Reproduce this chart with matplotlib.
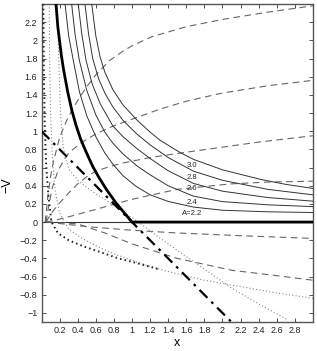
import matplotlib
matplotlib.use("Agg")
import matplotlib.pyplot as plt

plt.rcParams['font.family'] = ['Liberation Sans', 'DejaVu Sans']

# ---- data ----
thick_x = [0.16, 0.18, 0.20, 0.22, 0.245, 0.29, 0.335, 0.38, 0.43, 0.485, 0.53, 0.57, 0.635,
           0.72, 0.82, 0.92, 1.0, 3.0]
thick_y = [2.4, 2.15, 1.99, 1.83, 1.67, 1.43, 1.23, 1.07, 0.92, 0.79, 0.69, 0.605, 0.49,
           0.355, 0.215, 0.095, 0.0, 0.0]

A_labels = ["A=2.2", "2.4", "2.6", "2.8", "3.0"]
sol_x = [
    [0.26, 0.30, 0.351, 0.42, 0.5, 0.6, 0.7, 0.787, 0.9, 1.05, 1.2, 1.4, 1.68, 2.0, 2.5, 3.0],
    [0.333, 0.37, 0.418, 0.5, 0.6, 0.7, 0.787, 0.9, 1.053, 1.2, 1.4, 1.68, 2.0, 2.5, 3.0],
    [0.406, 0.445, 0.492, 0.56, 0.65, 0.787, 0.9, 1.053, 1.2, 1.4, 1.68, 2.0, 2.5, 3.0],
    [0.48, 0.52, 0.566, 0.63, 0.7, 0.787, 0.9, 1.053, 1.2, 1.4, 1.68, 2.0, 2.5, 3.0],
    [0.555, 0.6, 0.647, 0.7, 0.787, 0.9, 1.053, 1.2, 1.311, 1.532, 1.68, 2.0, 2.42, 2.7, 3.0],
]
sol_y = [
    [2.4, 2.05, 1.78, 1.43, 1.17, 0.94, 0.76, 0.64, 0.51, 0.39, 0.30, 0.227, 0.165, 0.13, 0.113, 0.105],
    [2.4, 2.07, 1.78, 1.45, 1.18, 0.99, 0.87, 0.75, 0.62, 0.52, 0.40, 0.285, 0.225, 0.19, 0.17],
    [2.4, 2.07, 1.78, 1.52, 1.30, 1.06, 0.94, 0.81, 0.70, 0.565, 0.425, 0.34, 0.27, 0.23],
    [2.4, 2.07, 1.80, 1.58, 1.42, 1.27, 1.12, 0.97, 0.85, 0.71, 0.56, 0.46, 0.36, 0.30],
    [2.4, 2.05, 1.82, 1.65, 1.46, 1.29, 1.125, 0.99, 0.90, 0.765, 0.69, 0.575, 0.47, 0.415, 0.37],
]
label_x = [1.665, 1.665, 1.665, 1.665, 1.665]
label_y = [0.095, 0.215, 0.37, 0.49, 0.625]

dash_x = [
    [0.04, 0.07, 0.1, 0.13, 0.2, 0.27, 0.33, 0.42, 0.5, 0.6, 0.754, 0.9, 1.0, 1.22, 1.6, 2.0, 2.5, 3.0],
    [0.05, 0.08, 0.12, 0.18, 0.25, 0.31, 0.45, 0.6, 0.8, 1.05, 1.3, 1.6, 2.0, 2.5, 3.0],
    [0.05, 0.11, 0.2, 0.3, 0.4, 0.5, 0.6, 0.75, 0.9, 1.2, 1.5, 1.754, 2.4, 3.0],
    [0.05, 0.15, 0.29, 0.6, 1.0, 1.5, 2.09, 2.5, 3.0],
    [0.06, 0.5, 1.0, 1.5, 2.2, 3.0],
    [0.06, 0.4, 0.7, 1.0, 1.22, 1.5, 2.1, 2.6, 3.0],
]
dash_y = [
    [0.0, 0.28, 0.5, 0.66, 0.93, 1.1, 1.22, 1.37, 1.49, 1.62, 1.78, 1.88, 1.94, 2.04, 2.15, 2.23, 2.31, 2.38],
    [0.0, 0.18, 0.38, 0.56, 0.69, 0.77, 0.88, 0.97, 1.06, 1.15, 1.24, 1.33, 1.42, 1.50, 1.56],
    [0.0, 0.1, 0.21, 0.32, 0.42, 0.5, 0.56, 0.61, 0.65, 0.71, 0.755, 0.79, 0.88, 0.95],
    [0.0, 0.02, 0.055, 0.14, 0.25, 0.36, 0.42, 0.44, 0.45],
    [0.0, -0.05, -0.09, -0.12, -0.15, -0.18],
    [0.0, -0.02, -0.12, -0.24, -0.31, -0.40, -0.53, -0.59, -0.64],
]

kdot_x = [0.02, 0.025, 0.035, 0.05, 0.075, 0.11, 0.18, 0.3, 0.47, 0.65, 0.85, 1.05, 1.3]
kdot_y = [2.4, 1.7, 1.1, 0.65, 0.3, 0.0, -0.12, -0.2, -0.27, -0.33, -0.4, -0.45, -0.52]

gdot_x = [
    [0.085, 0.09, 0.1, 0.12, 0.15, 0.2, 0.3, 0.45, 0.6, 0.8, 1.0, 1.2, 1.5, 1.8, 2.2, 2.6, 3.0],
    [0.175, 0.19, 0.21, 0.237, 0.27, 0.31, 0.4, 0.5, 0.65, 0.81, 0.95, 1.07, 1.3, 1.6, 1.85,
     2.09, 2.4, 2.73],
]
gdot_y = [
    [2.4, 1.8, 1.2, 0.7, 0.35, 0.1, -0.08, -0.18, -0.26, -0.35, -0.42, -0.49, -0.57, -0.64,
     -0.71, -0.78, -0.84],
    [2.4, 1.8, 1.2, 0.85, 0.68, 0.57, 0.46, 0.38, 0.28, 0.18, 0.08, 0.0, -0.17, -0.38, -0.55,
     -0.72, -0.9, -1.08],
]

line_x = [0.0, 2.2]
line_y = [1.0, -1.2]

xticks = [0.2, 0.4, 0.6, 0.8, 1.0, 1.2, 1.4, 1.6, 1.8, 2.0, 2.2, 2.4, 2.6, 2.8]
xtick_labels = ["0.2", "0.4", "0.6", "0.8", "1", "1.2", "1.4", "1.6", "1.8", "2", "2.2", "2.4", "2.6", "2.8"]
yticks = [-1.0, -0.8, -0.6, -0.4, -0.2, 0.0, 0.2, 0.4, 0.6, 0.8, 1.0, 1.2, 1.4, 1.6, 1.8, 2.0, 2.2]
ytick_labels = ["\u22121", "\u22120.8", "\u22120.6", "\u22120.4", "\u22120.2", "0", "0.2", "0.4", "0.6",
                "0.8", "1", "1.2", "1.4", "1.6", "1.8", "2", "2.2"]

# ---- figure ----
fig = plt.figure(figsize=(3.17, 3.51), dpi=100)
ax = fig.add_axes([0.131, 0.0826, 0.856, 0.906])

ax.axhline(0, color='#333333', lw=0.8, zorder=1)

for xs, ys in zip(dash_x, dash_y):
    ax.plot(xs, ys, color='#666666', lw=0.8, linestyle=(0, (6, 4)), zorder=2)
for xs, ys in zip(gdot_x, gdot_y):
    ax.plot(xs, ys, color='#888888', lw=0.8, linestyle=(0, (1, 2)), zorder=2)
ax.plot(kdot_x, kdot_y, color='#222222', lw=1.4, linestyle=(0, (0.8, 1.6)), zorder=3)

for xs, ys in zip(sol_x, sol_y):
    ax.plot(xs, ys, color='#333333', lw=0.7, zorder=3)
ax.plot(thick_x, thick_y, color='black', lw=2.0, zorder=4)
ax.plot(line_x, line_y, color='black', lw=1.6, linestyle=(0, (5, 2.5, 1.2, 2.5)), zorder=4)

for lx, ly, lt in zip(label_x, label_y, A_labels):
    ax.text(lx, ly, lt, fontsize=5.5, ha='center', va='center', color='#222222')

ax.set_xlim(0, 3.0)
ax.set_ylim(-1.1, 2.4)
ax.set_xticks(xticks)
ax.set_xticklabels(xtick_labels)
ax.set_yticks(yticks)
ax.set_yticklabels(ytick_labels)
ax.tick_params(direction='in', length=3, width=0.6, labelsize=6.5, top=True, right=True,
               colors='#333333', labelcolor='#222222', pad=3)
for s in ax.spines.values():
    s.set_color('#555555')
    s.set_linewidth(1.0)

ax.set_xlabel('x', fontsize=9, labelpad=1)
ax.set_ylabel('\u2212V', fontsize=9, labelpad=2)
ax.yaxis.set_label_coords(-0.105, 0.43)

fig.savefig('out.png', dpi=100)
